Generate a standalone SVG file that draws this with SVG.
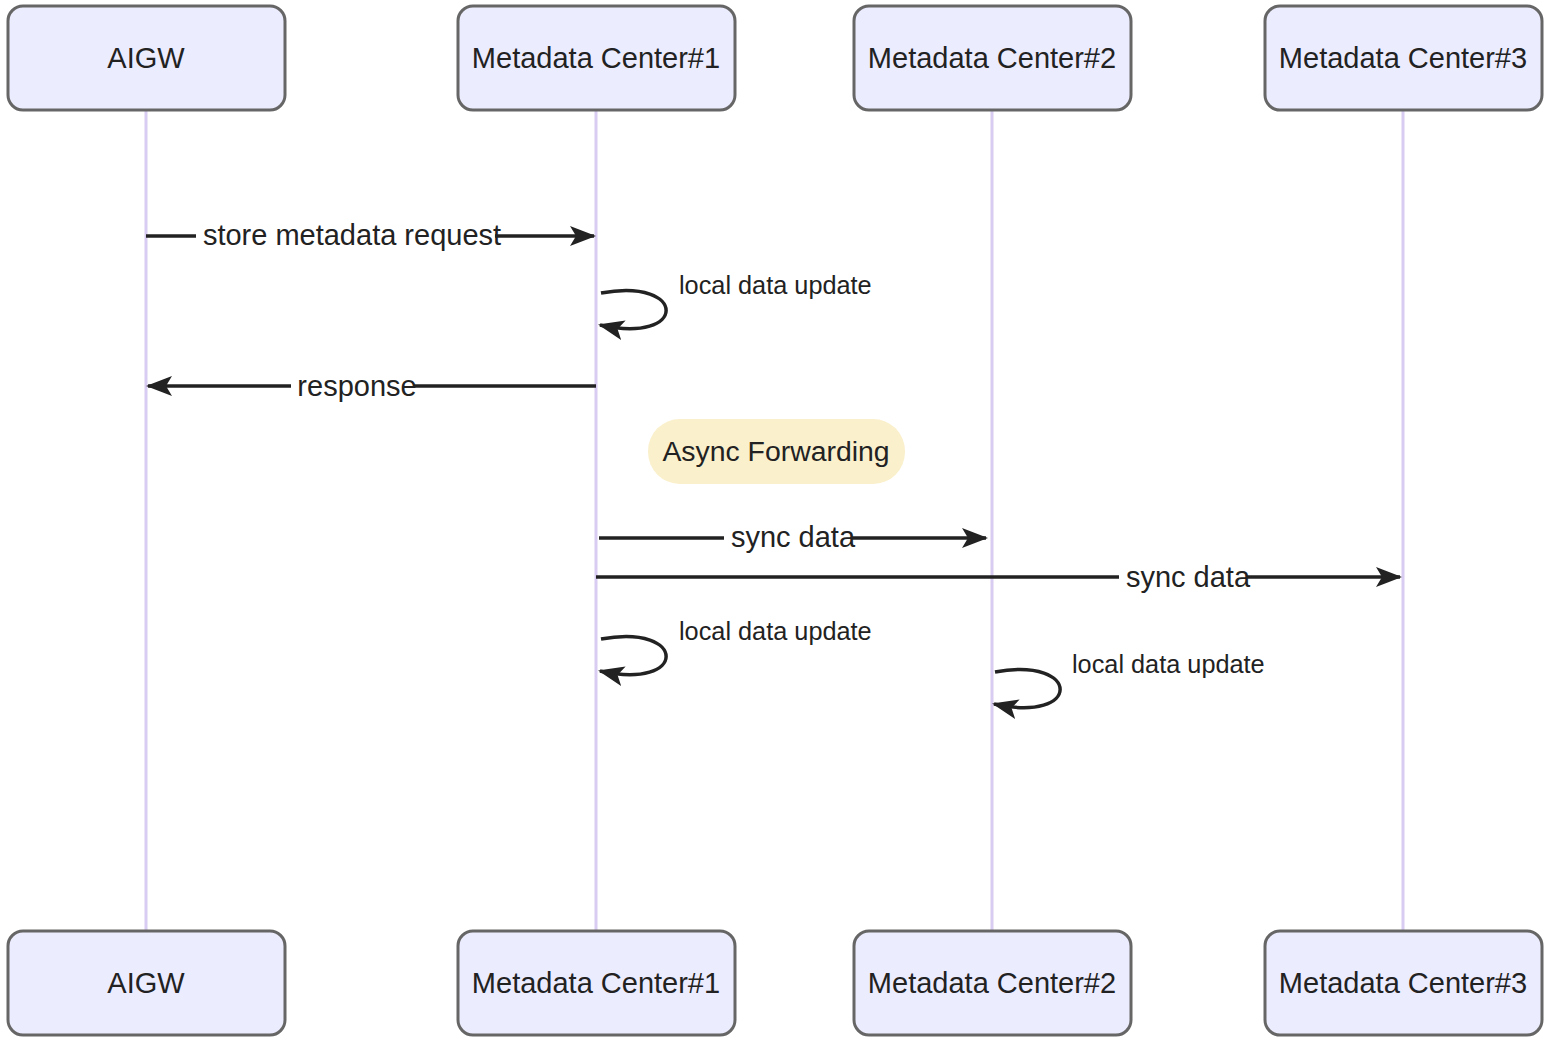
<svg xmlns="http://www.w3.org/2000/svg" width="1554" height="1041" viewBox="0 0 1554 1041">
<style>
.actor{fill:#ECECFF;stroke:#666;stroke-width:3}
.atext{font-family:"Liberation Sans",Arial,sans-serif;font-size:29px;fill:#222;text-anchor:middle}
.life{stroke:#D9CCF2;stroke-width:3}
.msg{stroke:#222;stroke-width:3.5;fill:none}
.mtext{font-family:"Liberation Sans",Arial,sans-serif;font-size:29px;fill:#222;text-anchor:middle}
.stext{font-family:"Liberation Sans",Arial,sans-serif;font-size:25.3px;fill:#222}
.bg{fill:#fff}
</style>
<defs>
<marker id="arrow" markerUnits="userSpaceOnUse" markerWidth="28" markerHeight="22" refX="24" refY="10" orient="auto">
<path d="M0,0 L26,10 L0,20 L6,10 z" fill="#222"/>
</marker>
</defs>
<g id="lifelines">
<line class="life" x1="146" y1="110" x2="146" y2="931"/>
<line class="life" x1="596" y1="110" x2="596" y2="931"/>
<line class="life" x1="992" y1="110" x2="992" y2="931"/>
<line class="life" x1="1403" y1="110" x2="1403" y2="931"/>
</g>
<g id="actor-aigw-top"><rect class="actor" x="8" y="6" width="277" height="104" rx="15"/><text class="atext" x="146" y="68">AIGW</text></g>
<g id="actor-mc1-top"><rect class="actor" x="458" y="6" width="277" height="104" rx="15"/><text class="atext" x="596" y="68">Metadata Center#1</text></g>
<g id="actor-mc2-top"><rect class="actor" x="854" y="6" width="277" height="104" rx="15"/><text class="atext" x="992" y="68">Metadata Center#2</text></g>
<g id="actor-mc3-top"><rect class="actor" x="1265" y="6" width="277" height="104" rx="15"/><text class="atext" x="1403" y="68">Metadata Center#3</text></g>
<g id="actor-aigw-bottom"><rect class="actor" x="8" y="931" width="277" height="104" rx="15"/><text class="atext" x="146" y="993">AIGW</text></g>
<g id="actor-mc1-bottom"><rect class="actor" x="458" y="931" width="277" height="104" rx="15"/><text class="atext" x="596" y="993">Metadata Center#1</text></g>
<g id="actor-mc2-bottom"><rect class="actor" x="854" y="931" width="277" height="104" rx="15"/><text class="atext" x="992" y="993">Metadata Center#2</text></g>
<g id="actor-mc3-bottom"><rect class="actor" x="1265" y="931" width="277" height="104" rx="15"/><text class="atext" x="1403" y="993">Metadata Center#3</text></g>
<g id="note-async"><rect x="648" y="419" width="257" height="65" rx="32" fill="#FAF0CC"/><text class="mtext" x="776" y="461" style="font-size:28.4px">Async Forwarding</text></g>
<g id="connectors">
<line class="msg" x1="146" y1="236" x2="594" y2="236" marker-end="url(#arrow)"/>
<rect class="bg" x="196" y="220" width="299" height="30"/>
<text class="mtext" x="352" y="245">store metadata request</text>
<path class="msg" d="M601,293 C688,277 688,345 600,325" marker-end="url(#arrow)"/>
<text class="stext" x="679" y="294">local data update</text>
<line class="msg" x1="596" y1="386" x2="148" y2="386" marker-end="url(#arrow)"/>
<rect class="bg" x="291" y="370" width="123" height="30"/>
<text class="mtext" x="357" y="396">response</text>
<line class="msg" x1="599" y1="538" x2="986" y2="538" marker-end="url(#arrow)"/>
<rect class="bg" x="724" y="522" width="127" height="30"/>
<text class="mtext" x="793" y="547">sync data</text>
<line class="msg" x1="596" y1="577" x2="1400" y2="577" marker-end="url(#arrow)"/>
<rect class="bg" x="1119" y="561" width="127" height="30"/>
<text class="mtext" x="1188" y="587">sync data</text>
<path class="msg" d="M601,639 C688,623 688,691 600,671" marker-end="url(#arrow)"/>
<text class="stext" x="679" y="640">local data update</text>
<path class="msg" d="M995,672 C1082,656 1082,724 994,704" marker-end="url(#arrow)"/>
<text class="stext" x="1072" y="673">local data update</text>
</g>
</svg>
